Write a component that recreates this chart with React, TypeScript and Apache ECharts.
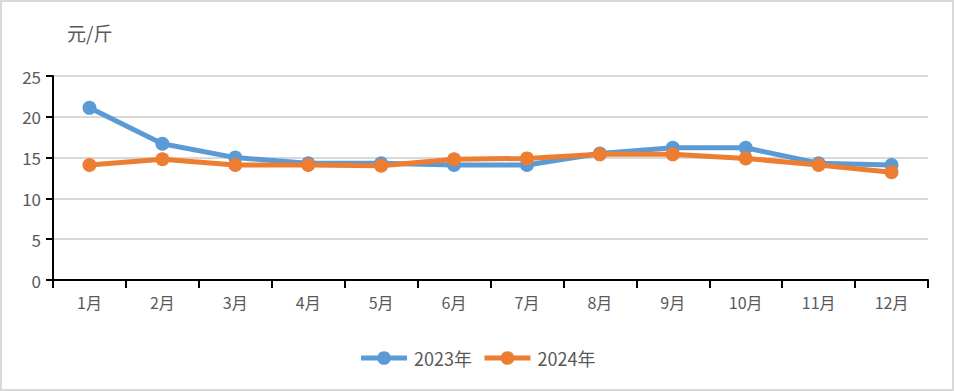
import React, { useEffect, useRef } from "react";
import * as echarts from "echarts";

const months = ["1月", "2月", "3月", "4月", "5月", "6月", "7月", "8月", "9月", "10月", "11月", "12月"];
const series2023 = [21.1, 16.7, 15.0, 14.3, 14.3, 14.1, 14.1, 15.5, 16.2, 16.2, 14.3, 14.1];
const series2024 = [14.1, 14.8, 14.1, 14.1, 14.0, 14.8, 14.9, 15.4, 15.4, 14.9, 14.1, 13.2];
const yTicks = { min: 0, max: 25, interval: 5 };
const unitLabel = "元/斤";

const FONT = "'Noto Sans CJK SC', 'Noto Sans', sans-serif";

export default function App() {
  const ref = useRef<HTMLDivElement>(null);
  useEffect(() => {
    document.body.style.margin = "0";
    const chart = echarts.init(ref.current!, undefined, { renderer: "svg" });
    chart.setOption({
      animation: false,
      backgroundColor: "#ffffff",
      textStyle: { fontFamily: FONT },
      graphic: [
        {
          type: "rect",
          shape: { x: 1, y: 1, width: 952, height: 389 },
          style: { fill: "none", stroke: "#d9d9d9", lineWidth: 2 },
          silent: true,
          z: -1,
        },
      ],
      grid: { left: 53, right: 26, top: 76, bottom: 111, containLabel: false },
      legend: {
        bottom: 19,
        left: "center",
        itemWidth: 46,
        itemHeight: 17,
        itemGap: 10,
        lineStyle: { width: 5 },
        textStyle: { color: "#595959", fontSize: 18, fontFamily: FONT, padding: [0, 0, 0, 2] },
        data: ["2023年", "2024年"],
      },
      xAxis: {
        type: "category",
        data: months,
        boundaryGap: true,
        axisLine: { lineStyle: { color: "#000000", width: 2 } },
        axisTick: { show: true, alignWithLabel: false, length: 8, lineStyle: { color: "#000000", width: 2 } },
        axisLabel: { color: "#595959", fontSize: 16, margin: 14, fontFamily: FONT },
      },
      yAxis: {
        type: "value",
        min: yTicks.min,
        max: yTicks.max,
        interval: yTicks.interval,
        name: unitLabel,
        nameLocation: "end",
        nameGap: 34,
        nameTextStyle: { color: "#595959", fontSize: 19, align: "left", padding: [0, 0, 0, 14], fontFamily: FONT },
        axisLine: { show: true, lineStyle: { color: "#000000", width: 2 } },
        axisTick: { show: true, length: 7, lineStyle: { color: "#000000", width: 2 } },
        axisLabel: { color: "#595959", fontSize: 17, margin: 12, fontFamily: FONT },
        splitLine: { show: true, lineStyle: { color: "#d9d9d9", width: 2 } },
      },
      series: [
        {
          name: "2023年",
          type: "line",
          data: series2023,
          symbol: "circle",
          symbolSize: 14,
          lineStyle: { width: 5, color: "#5b9bd5" },
          itemStyle: { color: "#5b9bd5" },
        },
        {
          name: "2024年",
          type: "line",
          data: series2024,
          symbol: "circle",
          symbolSize: 14,
          lineStyle: { width: 5, color: "#ed7d31" },
          itemStyle: { color: "#ed7d31" },
        },
      ],
    });
    return () => chart.dispose();
  }, []);
  return <div ref={ref} style={{ position: "absolute", left: 0, top: 0, width: 954, height: 391 }} />;
}
